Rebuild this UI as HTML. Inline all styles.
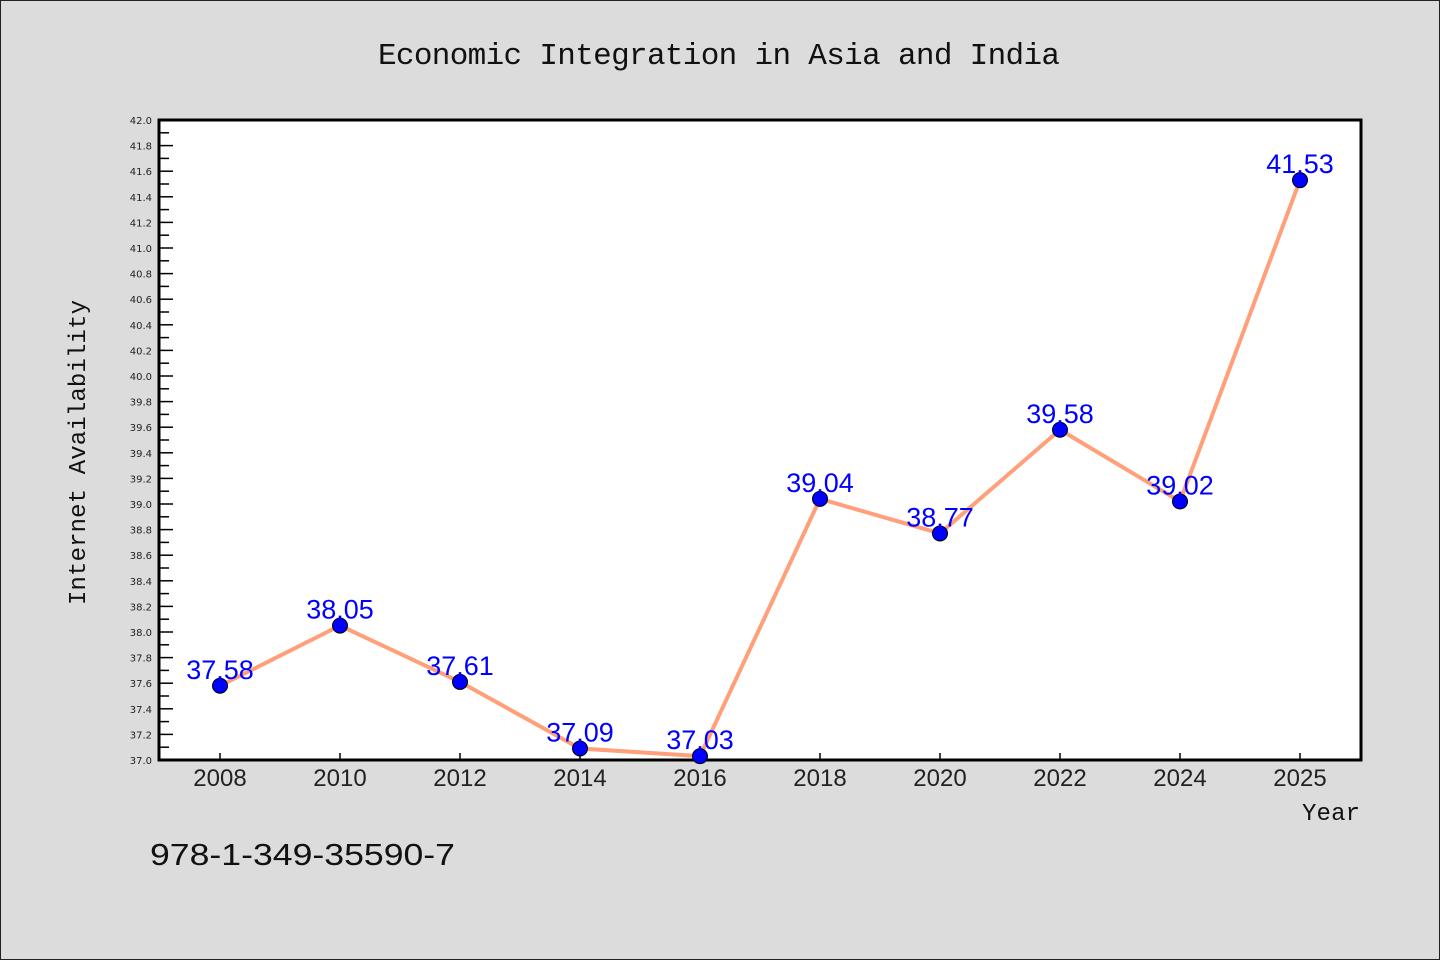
<!DOCTYPE html>
<html><head><meta charset="utf-8"><style>
html,body{margin:0;padding:0;background:#dcdcdc;}
svg{display:block;}
</style></head><body>
<svg width="1440" height="960" xmlns="http://www.w3.org/2000/svg" id="chart">
<rect x="0.5" y="0.5" width="1439" height="959" fill="#dcdcdc" stroke="#222"/>
<text x="378" y="64" font-family="'WenQuanYi Zen Hei','Liberation Mono',monospace" font-size="31" fill="#111" textLength="682" lengthAdjust="spacing">Economic Integration in Asia and India</text>
<rect x="159" y="120" width="1202" height="640" fill="#fff"/>
<g id="yticks"></g><g id="xticks"></g>
<rect x="159" y="120" width="1202" height="640" fill="none" stroke="#000" stroke-width="3"/>
<g id="series"></g>
<text transform="translate(85,605) rotate(-90)" font-family="'WenQuanYi Zen Hei','Liberation Mono',monospace" font-size="24" fill="#111" textLength="305" lengthAdjust="spacing">Internet Availability</text>
<text x="1302" y="820" font-family="'WenQuanYi Zen Hei','Liberation Mono',monospace" font-size="24" fill="#111" textLength="58" lengthAdjust="spacing">Year</text>
<text x="150" y="865" font-family="'Liberation Sans',sans-serif" font-size="31" fill="#111" textLength="305" lengthAdjust="spacingAndGlyphs">978-1-349-35590-7</text>
</svg>
<script>
const categories = ["2008","2010","2012","2014","2016","2018","2020","2022","2024","2025"];
const values = [37.58,38.05,37.61,37.09,37.03,39.04,38.77,39.58,39.02,41.53];
const valueLabels = ["37.58","38.05","37.61","37.09","37.03","39.04","38.77","39.58","39.02","41.53"];
const yMin = 37.0, yMax = 42.0;
const NS="http://www.w3.org/2000/svg";
function y(v){return 760-(v-yMin)/(yMax-yMin)*640;}
function x(i){return 220+i*120;}
function mk(tag,attrs,parent){const e=document.createElementNS(NS,tag);for(const k in attrs)e.setAttribute(k,attrs[k]);parent.appendChild(e);return e;}
const yt=document.getElementById('yticks');
for(let k=0;k<=50;k++){
  const v=yMin+k*0.1, yy=y(v), major=k%2===0;
  const t=mk('line',{x1:159,x2:major?173:169,y1:yy,y2:yy,stroke:'#000','stroke-width':1.5},yt);
  
  
  if(major){
    const l=mk('text',{x:152,y:yy+4,'text-anchor':'end','font-family':"'DejaVu Sans',sans-serif",'font-size':10,fill:'#222'},yt);
    l.textContent=v.toFixed(1);
    
    
  }
}
const xt=document.getElementById('xticks');
categories.forEach((c,i)=>{
  const t=mk('line',{x1:x(i),x2:x(i),y1:760,y2:753,stroke:'#000','stroke-width':1.5},xt);
  
  
  const l=mk('text',{x:x(i),y:786,'text-anchor':'middle','font-family':"'Liberation Sans',sans-serif",'font-size':24,fill:'#222'},xt);
  l.textContent=c;
  
  
});
const s=document.getElementById('series');
const line=mk('polyline',{points:values.map((v,i)=>x(i)+','+y(v)).join(' '),fill:'none',stroke:'#ffa07a','stroke-width':4},s);


values.forEach((v,i)=>{
  const c=mk('circle',{cx:x(i),cy:y(v),r:7.5,fill:'#0000ff',stroke:'#000','stroke-width':1},s);
  
  
});
values.forEach((v,i)=>{
  const l=mk('text',{x:x(i),y:y(v)-7,'text-anchor':'middle','font-family':"'Liberation Sans',sans-serif",'font-size':27,fill:'#0000ff'},s);
  l.textContent=valueLabels[i];
  
  
});
</script>
</body></html>
